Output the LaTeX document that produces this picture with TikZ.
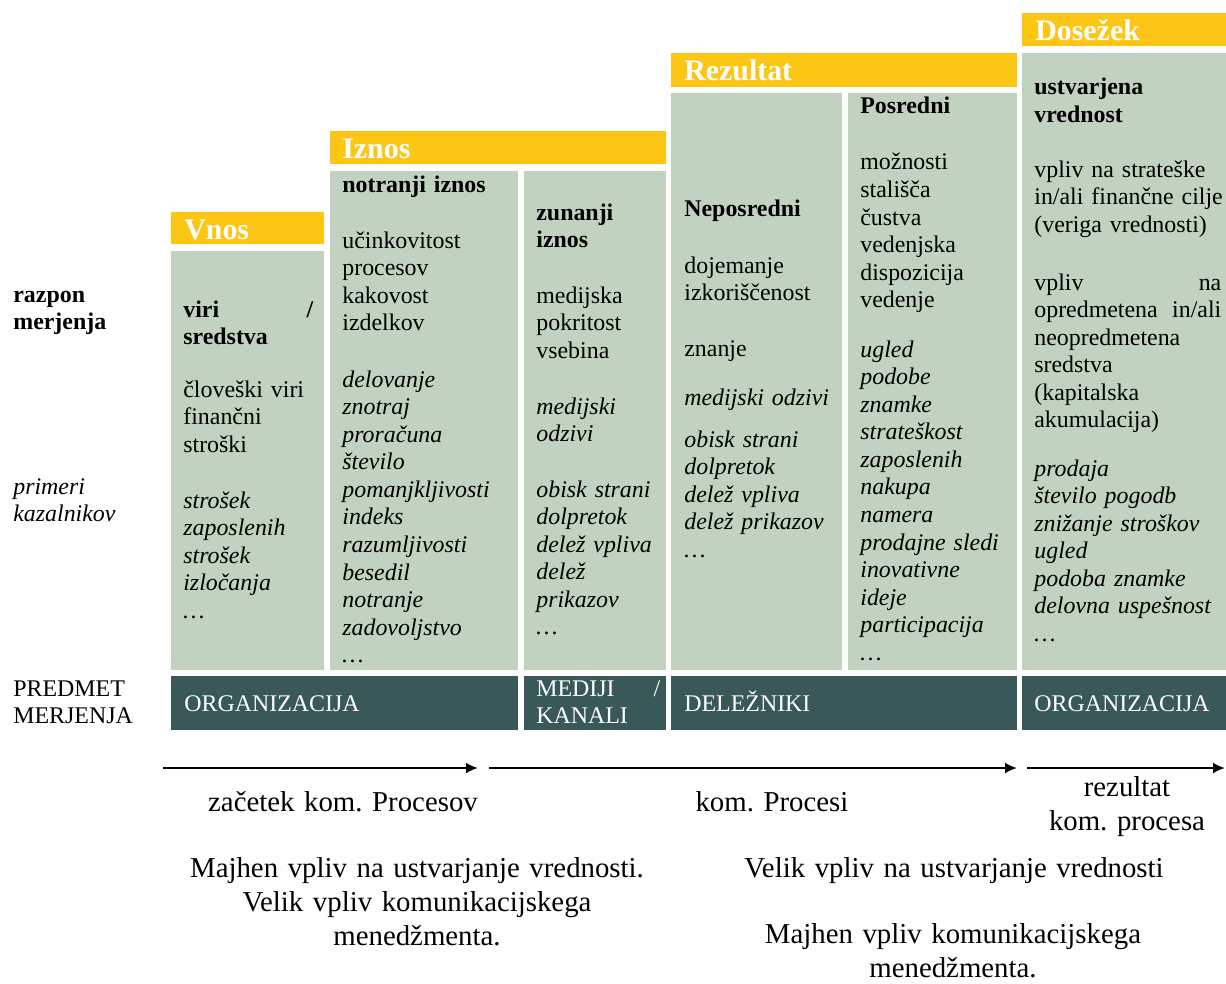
\documentclass[tikz,border=0pt]{standalone}
\usepackage{fontspec}
\setmainfont{Liberation Serif}
\usepackage{tikz}
\usetikzlibrary{arrows.meta}
\definecolor{gold}{RGB}{254,198,20}
\definecolor{sage}{RGB}{193,211,192}
\definecolor{slate}{RGB}{56,89,88}
\newcommand{\bodysize}{\fontsize{13.6}{15.7}\selectfont}
\newcommand{\headsize}{\fontsize{17}{20}\selectfont\bfseries}
\newcommand{\notesize}{\fontsize{16.4}{19.6}\selectfont}
\frenchspacing

\begin{document}
\begin{tikzpicture}[x=0.02cm,y=-0.02cm]
\tikzset{>={Latex[width=2.2mm,length=2.4mm]}}
\tikzstyle{txt}=[anchor=base west,inner sep=0pt,text width=4cm,align=left,font=\bodysize]
\tikzstyle{txtb}=[txt,font=\bodysize\bfseries]
\tikzstyle{txti}=[txt,font=\bodysize\itshape]
\tikzstyle{head}=[anchor=base west,inner sep=0pt,text=white,font=\headsize]
\tikzstyle{tag}=[txt,text=white]
\tikzstyle{note}=[anchor=base,inner sep=0pt,text width=10cm,align=center,font=\notesize]

\useasboundingbox (0,0) rectangle (1226,983);

% yellow bars
\fill[gold] (171,212) rectangle (324,244);
\fill[gold] (330,131) rectangle (666,164);
\fill[gold] (671,53) rectangle (1017,87);
\fill[gold] (1022,13) rectangle (1226,46);

% green columns
\fill[sage] (171,251) rectangle (324,670);
\fill[sage] (330,171) rectangle (518,670);
\fill[sage] (524,171) rectangle (666,670);
\fill[sage] (671,93) rectangle (842,670);
\fill[sage] (848,93) rectangle (1017,670);
\fill[sage] (1022,53) rectangle (1226,670);

% bottom row
\fill[slate] (171,676) rectangle (518,730);
\fill[slate] (524,676) rectangle (666,730);
\fill[slate] (671,676) rectangle (1017,730);
\fill[slate] (1022,676) rectangle (1226,730);

\node[head](vnos) at (184,239){Vnos};
\node[head](iznos) at (342,159){Iznos};
\node[head](rez) at (684,81){Rezultat};
\node[head](dos) at (1035,41){Dosežek};

\node[txtb](razpon) at (13,302){razpon\\merjenja};
\node[txti](primeri) at (13,494){primeri\\kazalnikov};
\node[txt](predmet) at (13,696){PREDMET\\MERJENJA};

\node[txtb,text width=2.6cm](viri) at (183,317){viri \hfill /\\sredstva};
\node[txt](vnosA) at (183,397){človeški viri\\finančni\\stroški};
\node[txti](vnosB) at (183,508){strošek\\zaposlenih\\strošek\\izločanja\\\ldots};

\node[txtb](notr) at (342,193){notranji iznos};
\node[txt](notrA) at (342,248){učinkovitost\\procesov\\kakovost\\izdelkov};
\node[txti](notrB) at (342,387){delovanje\\znotraj\\proračuna\\število\\pomanjkljivosti\\indeks\\razumljivosti\\besedil\\notranje\\zadovoljstvo\\\ldots};

\node[txtb](zun) at (536,220){zunanji\\iznos};
\node[txt](zunA) at (536,303){medijska\\pokritost\\vsebina};
\node[txti](zunB) at (536,414){medijski\\odzivi};
\node[txti](zunC) at (536,497){obisk strani\\dolpretok\\delež vpliva\\delež\\prikazov\\\ldots};

\node[txtb](nep) at (684,216){Neposredni};
\node[txt](nepA) at (684,273){dojemanje\\izkoriščenost};
\node[txt](nepB) at (684,356){znanje};
\node[txti](nepC) at (684,405){medijski odzivi};
\node[txti](nepD) at (684,447){obisk strani\\dolpretok\\delež vpliva\\delež prikazov\\\ldots};

\node[txtb](pos) at (860,114){Posredni};
\node[txt](posA) at (860,170){možnosti\\stališča\\čustva\\vedenjska\\dispozicija\\vedenje};
\node[txti](posB) at (860,357){ugled\\podobe\\znamke\\strateškost\\zaposlenih\\nakupa\\namera\\prodajne sledi\\inovativne\\ideje\\participacija\\\ldots};

\node[txtb](vred) at (1034,95){ustvarjena\\vrednost};
\node[txt](dosA) at (1034,177){vpliv na strateške\\in/ali finančne cilje\\(veriga vrednosti)};
\node[txt,text width=3.74cm](dosB) at (1034,290){vpliv \hfill na\\opredmetena \hfill in/ali\\neopredmetena\\sredstva\\(kapitalska\\akumulacija)};
\node[txti](dosC) at (1034,476){prodaja\\število pogodb\\znižanje stroškov\\ugled\\podoba znamke\\delovna uspešnost\\\ldots};

\node[tag](org1) at (184,711){ORGANIZACIJA};
\node[tag,text width=2.48cm](medij) at (536,696){MEDIJI \hfill /\\KANALI};
\node[tag](delez) at (684,711){DELEŽNIKI};
\node[tag](org2) at (1034,711){ORGANIZACIJA};

% process arrows
\coordinate (s1) at (163,768);
\coordinate (e1) at (478,768);
\coordinate (s2) at (489,768);
\coordinate (e2) at (1017,768);
\coordinate (s3) at (1027,768);
\coordinate (e3) at (1225,768);
\draw [->,line width=1.5pt] (s1) to (e1);
\draw [->,line width=1.5pt] (s2) to (e2);
\draw [->,line width=1.5pt] (s3) to (e3);

\node[note](zac) at (343,811){začetek kom. Procesov};
\node[note](proc) at (772,811){kom. Procesi};
\node[note](rezk) at (1127,796){rezultat\\kom. procesa};
\node[note](levo) at (417,877){Majhen vpliv na ustvarjanje vrednosti.\\Velik vpliv komunikacijskega\\menedžmenta.};
\node[note](desnoA) at (954,877){Velik vpliv na ustvarjanje vrednosti};
\node[note](desnoB) at (953,943){Majhen vpliv komunikacijskega\\menedžmenta.};
\end{tikzpicture}
\end{document}
